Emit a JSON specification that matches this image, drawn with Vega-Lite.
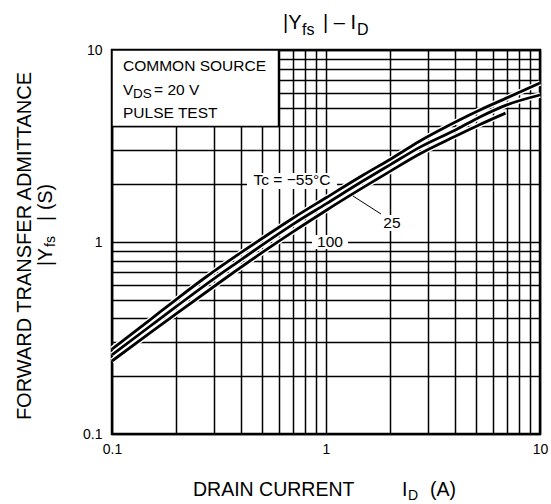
{
  "$schema": "https://vega.github.io/schema/vega-lite/v6.json",
  "width": 428,
  "height": 384,
  "autosize": {"type": "none"},
  "padding": {"left": 112, "top": 50, "right": 11, "bottom": 70},
  "background": "white",
  "config": {
    "view": {"stroke": "black", "strokeWidth": 2.5},
    "font": "Liberation Sans",
    "text": {"font": "Liberation Sans", "color": "black"}
  },
  "datasets": {
    "curves": [
      {"tc": "-55", "x": 0.1, "y": 0.277}, {"tc": "-55", "x": 0.15, "y": 0.392}, {"tc": "-55", "x": 0.2, "y": 0.503},
      {"tc": "-55", "x": 0.263, "y": 0.634}, {"tc": "-55", "x": 0.3, "y": 0.705}, {"tc": "-55", "x": 0.4, "y": 0.88},
      {"tc": "-55", "x": 0.5, "y": 1.04}, {"tc": "-55", "x": 0.7, "y": 1.33}, {"tc": "-55", "x": 1, "y": 1.7},
      {"tc": "-55", "x": 1.5, "y": 2.24}, {"tc": "-55", "x": 2, "y": 2.7}, {"tc": "-55", "x": 2.75, "y": 3.36},
      {"tc": "-55", "x": 3.41, "y": 3.83}, {"tc": "-55", "x": 4.2, "y": 4.32}, {"tc": "-55", "x": 5.24, "y": 4.87},
      {"tc": "-55", "x": 7, "y": 5.63}, {"tc": "-55", "x": 10, "y": 6.73},
      {"tc": "25", "x": 0.1, "y": 0.258}, {"tc": "25", "x": 0.15, "y": 0.363}, {"tc": "25", "x": 0.2, "y": 0.462},
      {"tc": "25", "x": 0.3, "y": 0.645}, {"tc": "25", "x": 0.4, "y": 0.807}, {"tc": "25", "x": 0.5, "y": 0.96},
      {"tc": "25", "x": 0.7, "y": 1.236}, {"tc": "25", "x": 1, "y": 1.58}, {"tc": "25", "x": 1.5, "y": 2.09},
      {"tc": "25", "x": 2, "y": 2.53}, {"tc": "25", "x": 2.75, "y": 3.12}, {"tc": "25", "x": 4.09, "y": 3.87},
      {"tc": "25", "x": 5.24, "y": 4.48}, {"tc": "25", "x": 7, "y": 5.18}, {"tc": "25", "x": 10, "y": 5.83},
      {"tc": "100", "x": 0.1, "y": 0.24}, {"tc": "100", "x": 0.15, "y": 0.335}, {"tc": "100", "x": 0.2, "y": 0.424},
      {"tc": "100", "x": 0.33, "y": 0.634}, {"tc": "100", "x": 0.5, "y": 0.877}, {"tc": "100", "x": 0.7, "y": 1.129},
      {"tc": "100", "x": 1, "y": 1.46}, {"tc": "100", "x": 1.5, "y": 1.93}, {"tc": "100", "x": 2, "y": 2.34},
      {"tc": "100", "x": 2.75, "y": 2.88}, {"tc": "100", "x": 4, "y": 3.54}, {"tc": "100", "x": 5.24, "y": 4.09},
      {"tc": "100", "x": 6.9, "y": 4.69}
    ],
    "boxes": [
      {"kind": "legend", "x": 0.1, "x2": 0.6, "y": 4, "y2": 10},
      {"kind": "bg", "x": 0.4274, "x2": 1.1257, "y": 1.888, "y2": 2.288},
      {"kind": "bg", "x": 1.847, "x2": 2.265, "y": 1.141, "y2": 1.382},
      {"kind": "bg", "x": 0.8603, "x2": 1.267, "y": 0.9195, "y2": 1.0875}
    ],
    "leaders": [
      {"x": 1.337, "y": 1.736, "x2": 1.807, "y2": 1.399}
    ],
    "texts": [
      {"grp": "boxtext", "text": "COMMON SOURCE", "x": 0.1126, "y": 8.254},
      {"grp": "boxtext", "text": "V", "x": 0.1126, "y": 6.19},
      {"grp": "boxsub", "text": "DS", "x": 0.1254, "y": 5.9},
      {"grp": "boxtext", "text": "= 20 V", "x": 0.1572, "y": 6.19},
      {"grp": "boxtext", "text": "PULSE TEST", "x": 0.1126, "y": 4.7},
      {"grp": "note", "text": "Tc = −55°C", "x": 0.6935, "y": 2.103},
      {"grp": "note", "text": "25", "x": 2.034, "y": 1.256},
      {"grp": "note", "text": "100", "x": 1.044, "y": 1.0},
      {"grp": "title", "text": "|Y", "x": 0.6296, "y": 13.82},
      {"grp": "titlesub", "text": "fs", "x": 0.7727, "y": 12.71},
      {"grp": "title", "text": "| – I", "x": 0.9683, "y": 13.82},
      {"grp": "titlesub", "text": "D", "x": 1.396, "y": 12.71},
      {"grp": "xtitle", "text": "DRAIN CURRENT", "x": 0.239, "y": 0.05109},
      {"grp": "xtitle", "text": "I", "x": 2.265, "y": 0.05109},
      {"grp": "xsub", "text": "D", "x": 2.416, "y": 0.04754},
      {"grp": "xtitle", "text": "(A)", "x": 3.062, "y": 0.05109},
      {"grp": "ytitle", "text": "FORWARD TRANSFER ADMITTANCE", "x": 0.0392, "y": 0.953},
      {"grp": "ytitle2", "text": "|Y", "x": 0.04915, "y": 0.75},
      {"grp": "ysub", "text": "fs", "x": 0.05188, "y": 0.9418},
      {"grp": "ytitle2", "text": "|", "x": 0.04915, "y": 1.286},
      {"grp": "ytitle2", "text": "(S)", "x": 0.04915, "y": 1.468}
    ]
  },
  "layer": [
    {
      "data": {"name": "boxes"},
      "transform": [{"filter": "datum.kind == 'legend'"}],
      "mark": {"type": "rect", "fill": "white", "stroke": "black", "strokeWidth": 1.5},
      "encoding": {
        "x": {
          "field": "x", "type": "quantitative",
          "scale": {"type": "log", "domain": [0.1, 10], "nice": false},
          "axis": {
            "title": null,
            "values": [0.1, 0.2, 0.3, 0.4, 0.5, 0.6, 0.7, 0.8, 0.9, 1, 2, 3, 4, 5, 6, 7, 8, 9, 10],
            "format": "~g",
            "labelExpr": "datum.value == 0.1 || datum.value == 1 || datum.value == 10 ? datum.label : ''",
            "grid": true, "gridColor": "black", "gridWidth": 1.5, "gridOpacity": 1,
            "domain": false, "ticks": false,
            "labelFont": "Liberation Sans", "labelFontSize": 14, "labelColor": "black",
            "labelPadding": 8, "labelFlush": false, "labelOverlap": false
          }
        },
        "x2": {"field": "x2"},
        "y": {
          "field": "y", "type": "quantitative",
          "scale": {"type": "log", "domain": [0.1, 10], "nice": false},
          "axis": {
            "title": null,
            "values": [0.1, 0.2, 0.3, 0.4, 0.5, 0.6, 0.7, 0.8, 0.9, 1, 2, 3, 4, 5, 6, 7, 8, 9, 10],
            "format": "~g",
            "labelExpr": "datum.value == 0.1 || datum.value == 1 || datum.value == 10 ? datum.label : ''",
            "grid": true, "gridColor": "black", "gridWidth": 1.5, "gridOpacity": 1,
            "domain": false, "ticks": false,
            "labelFont": "Liberation Sans", "labelFontSize": 14, "labelColor": "black",
            "labelPadding": 10, "labelFlush": false, "labelOverlap": false
          }
        },
        "y2": {"field": "y2"}
      }
    },
    {
      "data": {"name": "boxes"},
      "transform": [{"filter": "datum.kind == 'bg'"}],
      "mark": {"type": "rect", "fill": "white"},
      "encoding": {
        "x": {"field": "x", "type": "quantitative"},
        "x2": {"field": "x2"},
        "y": {"field": "y", "type": "quantitative"},
        "y2": {"field": "y2"}
      }
    },
    {
      "data": {"name": "curves"},
      "transform": [{"filter": "datum.tc == '-55'"}],
      "mark": {"type": "line", "stroke": "white", "strokeWidth": 5.5, "interpolate": "monotone"},
      "encoding": {"x": {"field": "x", "type": "quantitative"}, "y": {"field": "y", "type": "quantitative"}}
    },
    {
      "data": {"name": "curves"},
      "transform": [{"filter": "datum.tc == '-55'"}],
      "mark": {"type": "line", "stroke": "black", "strokeWidth": 2.8, "interpolate": "monotone"},
      "encoding": {"x": {"field": "x", "type": "quantitative"}, "y": {"field": "y", "type": "quantitative"}}
    },
    {
      "data": {"name": "curves"},
      "transform": [{"filter": "datum.tc == '25'"}],
      "mark": {"type": "line", "stroke": "white", "strokeWidth": 5.5, "interpolate": "monotone"},
      "encoding": {"x": {"field": "x", "type": "quantitative"}, "y": {"field": "y", "type": "quantitative"}}
    },
    {
      "data": {"name": "curves"},
      "transform": [{"filter": "datum.tc == '25'"}],
      "mark": {"type": "line", "stroke": "black", "strokeWidth": 2.8, "interpolate": "monotone"},
      "encoding": {"x": {"field": "x", "type": "quantitative"}, "y": {"field": "y", "type": "quantitative"}}
    },
    {
      "data": {"name": "curves"},
      "transform": [{"filter": "datum.tc == '100'"}],
      "mark": {"type": "line", "stroke": "white", "strokeWidth": 5.5, "interpolate": "monotone"},
      "encoding": {"x": {"field": "x", "type": "quantitative"}, "y": {"field": "y", "type": "quantitative"}}
    },
    {
      "data": {"name": "curves"},
      "transform": [{"filter": "datum.tc == '100'"}],
      "mark": {"type": "line", "stroke": "black", "strokeWidth": 2.8, "interpolate": "monotone"},
      "encoding": {"x": {"field": "x", "type": "quantitative"}, "y": {"field": "y", "type": "quantitative"}}
    },
    {
      "data": {"name": "leaders"},
      "mark": {"type": "rule", "stroke": "black", "strokeWidth": 1},
      "encoding": {
        "x": {"field": "x", "type": "quantitative"}, "y": {"field": "y", "type": "quantitative"},
        "x2": {"field": "x2"}, "y2": {"field": "y2"}
      }
    },
    {
      "data": {"name": "texts"},
      "transform": [{"filter": "datum.grp == 'boxtext'"}],
      "mark": {"type": "text", "align": "left", "baseline": "middle", "fontSize": 15.5},
      "encoding": {"x": {"field": "x", "type": "quantitative"}, "y": {"field": "y", "type": "quantitative"}, "text": {"field": "text"}}
    },
    {
      "data": {"name": "texts"},
      "transform": [{"filter": "datum.grp == 'boxsub'"}],
      "mark": {"type": "text", "align": "left", "baseline": "middle", "fontSize": 13.5},
      "encoding": {"x": {"field": "x", "type": "quantitative"}, "y": {"field": "y", "type": "quantitative"}, "text": {"field": "text"}}
    },
    {
      "data": {"name": "texts"},
      "transform": [{"filter": "datum.grp == 'note'"}],
      "mark": {"type": "text", "align": "center", "baseline": "middle", "fontSize": 15.5},
      "encoding": {"x": {"field": "x", "type": "quantitative"}, "y": {"field": "y", "type": "quantitative"}, "text": {"field": "text"}}
    },
    {
      "data": {"name": "texts"},
      "transform": [{"filter": "datum.grp == 'title'"}],
      "mark": {"type": "text", "align": "left", "baseline": "middle", "fontSize": 20},
      "encoding": {"x": {"field": "x", "type": "quantitative"}, "y": {"field": "y", "type": "quantitative"}, "text": {"field": "text"}}
    },
    {
      "data": {"name": "texts"},
      "transform": [{"filter": "datum.grp == 'titlesub'"}],
      "mark": {"type": "text", "align": "left", "baseline": "middle", "fontSize": 16},
      "encoding": {"x": {"field": "x", "type": "quantitative"}, "y": {"field": "y", "type": "quantitative"}, "text": {"field": "text"}}
    },
    {
      "data": {"name": "texts"},
      "transform": [{"filter": "datum.grp == 'xtitle'"}],
      "mark": {"type": "text", "align": "left", "baseline": "middle", "fontSize": 19.5},
      "encoding": {"x": {"field": "x", "type": "quantitative"}, "y": {"field": "y", "type": "quantitative"}, "text": {"field": "text"}}
    },
    {
      "data": {"name": "texts"},
      "transform": [{"filter": "datum.grp == 'xsub'"}],
      "mark": {"type": "text", "align": "left", "baseline": "middle", "fontSize": 14},
      "encoding": {"x": {"field": "x", "type": "quantitative"}, "y": {"field": "y", "type": "quantitative"}, "text": {"field": "text"}}
    },
    {
      "data": {"name": "texts"},
      "transform": [{"filter": "datum.grp == 'ytitle'"}],
      "mark": {"type": "text", "align": "center", "baseline": "middle", "fontSize": 20, "angle": 270},
      "encoding": {"x": {"field": "x", "type": "quantitative"}, "y": {"field": "y", "type": "quantitative"}, "text": {"field": "text"}}
    },
    {
      "data": {"name": "texts"},
      "transform": [{"filter": "datum.grp == 'ytitle2'"}],
      "mark": {"type": "text", "align": "left", "baseline": "middle", "fontSize": 19.5, "angle": 270},
      "encoding": {"x": {"field": "x", "type": "quantitative"}, "y": {"field": "y", "type": "quantitative"}, "text": {"field": "text"}}
    },
    {
      "data": {"name": "texts"},
      "transform": [{"filter": "datum.grp == 'ysub'"}],
      "mark": {"type": "text", "align": "left", "baseline": "middle", "fontSize": 14, "angle": 270},
      "encoding": {"x": {"field": "x", "type": "quantitative"}, "y": {"field": "y", "type": "quantitative"}, "text": {"field": "text"}}
    }
  ]
}
